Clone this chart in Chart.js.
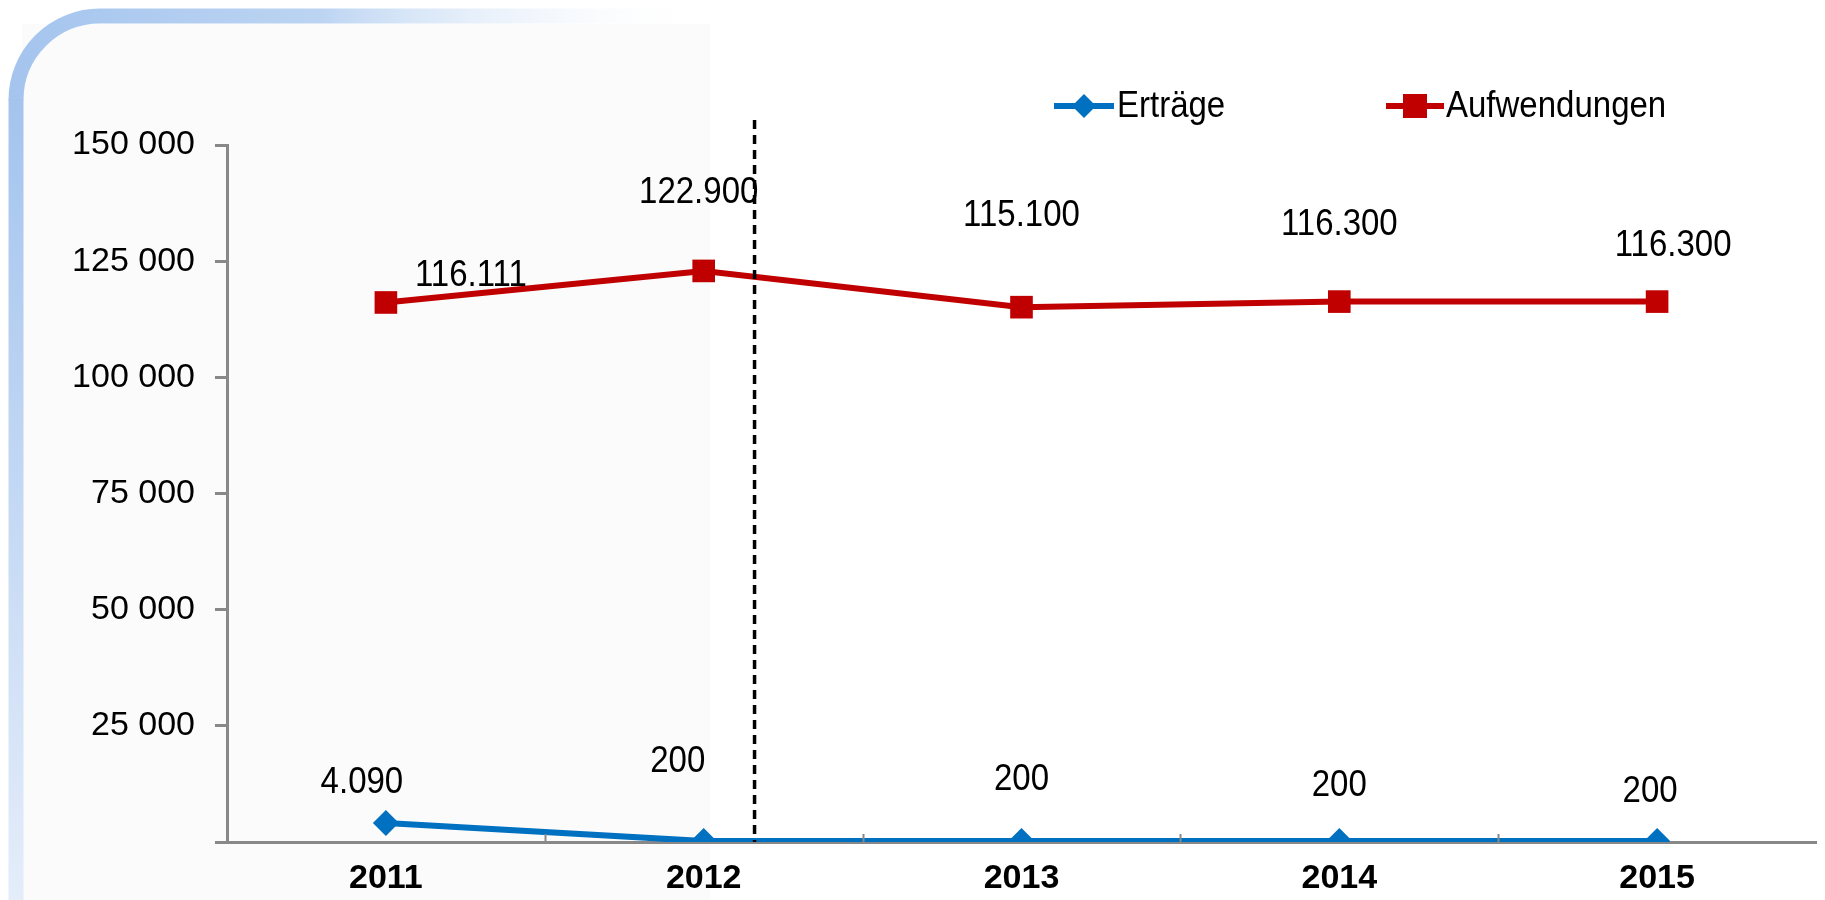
<!DOCTYPE html>
<html>
<head>
<meta charset="utf-8">
<script src="https://cdn.jsdelivr.net/npm/chart.js@4/dist/chart.umd.min.js"></script>
<style>
  html, body { margin: 0; padding: 0; overflow: hidden; background: #fff; }
  canvas { display: block; }
</style>
</head>
<body>
<canvas id="chart" width="1832" height="900"></canvas>
<script>
// Daten
const years = ['2011', '2012', '2013', '2014', '2015'];
const ertraege = [4090, 200, 200, 200, 200];
const aufwendungen = [116111, 122900, 115100, 116300, 116300];
const yMax = 150000;
const yStep = 25000;

// Lage der Wertbeschriftungen relativ zum Punkt (px)
const ertraegeLabelShift = [[-24, -40], [-26, -79], [0, -61], [0, -55], [-7, -49]];
const aufwLabelShift = [[85, -26], [-5, -78], [0, -91], [0, -77], [16, -56]];

// gestrichelte Trennlinie zwischen 2012 und 2013 (Kategorie-Index)
const dividerAt = 1.16;

const FONT = "'Liberation Sans', Arial, sans-serif";
const BLUE = '#0070c0';
const RED = '#c00000';

function fmtSpace(v) {
    return String(v).replace(/\B(?=(\d{3})+(?!\d))/g, ' ');
}
function fmtDot(v) {
    return String(v).replace(/\B(?=(\d{3})+(?!\d))/g, '.');
}

// Text etwas gestreckt zeichnen (wie im Original)
function tallText(ctx, txt, x, y, stretch) {
    ctx.save();
    ctx.translate(x, y);
    ctx.scale(1, stretch);
    ctx.fillText(txt, 0, 0);
    ctx.restore();
}

// Hintergrund mit blauem Rahmen oben links
const framePlugin = {
    id: 'frame',
    beforeDraw(chart) {
        const ctx = chart.ctx;
        const W = chart.width, H = chart.height;
        ctx.save();
        ctx.fillStyle = '#ffffff';
        ctx.fillRect(0, 0, W, H);
        ctx.fillStyle = '#fbfbfb';
        ctx.fillRect(22, 24, 688, H - 24);

        const c = 16, r = 84;
        let g = ctx.createLinearGradient(0, 0, 710, 0);
        g.addColorStop(0, '#a4c4ee');
        g.addColorStop(0.45, '#bcd4f2');
        g.addColorStop(1, 'rgba(255,255,255,0)');
        ctx.strokeStyle = g;
        ctx.lineWidth = 15;
        ctx.beginPath();
        ctx.moveTo(c, c + r);
        ctx.arcTo(c, c, c + r, c, r);
        ctx.lineTo(710, c);
        ctx.stroke();
        g = ctx.createLinearGradient(0, c + r, 0, H);
        g.addColorStop(0, '#a4c4ee');
        g.addColorStop(1, '#e4edfa');
        ctx.strokeStyle = g;
        ctx.beginPath();
        ctx.moveTo(c, c + r - 1);
        ctx.lineTo(c, H);
        ctx.stroke();
        ctx.restore();
    }
};

// Teilstriche, Trennlinie, Beschriftungen, Legende
const decoPlugin = {
    id: 'deco',
    afterDatasetsDraw(chart) {
        const ctx = chart.ctx;
        const xs = chart.scales.x;
        const area = chart.chartArea;
        ctx.save();

        ctx.strokeStyle = '#888';
        ctx.lineWidth = 2;
        const step = (xs.right - xs.left) / years.length;
        for (let i = 1; i < years.length; i++) {
            const x = Math.round(xs.left + i * step) + 0.5;
            ctx.beginPath();
            ctx.moveTo(x, area.bottom);
            ctx.lineTo(x, area.bottom - 8);
            ctx.stroke();
        }

        const dx = xs.getPixelForValue(1) + (dividerAt - 1) * step;
        ctx.strokeStyle = '#000';
        ctx.lineWidth = 3.5;
        ctx.setLineDash([9, 6]);
        ctx.beginPath();
        ctx.moveTo(dx, area.top - 25);
        ctx.lineTo(dx, area.bottom);
        ctx.stroke();
        ctx.setLineDash([]);

        ctx.fillStyle = '#000';
        ctx.font = '33px ' + FONT;
        ctx.textAlign = 'center';
        ctx.textBaseline = 'middle';
        const shifts = [ertraegeLabelShift, aufwLabelShift];
        chart.data.datasets.forEach((ds, di) => {
            const meta = chart.getDatasetMeta(di);
            meta.data.forEach((pt, i) => {
                const s = shifts[di][i];
                tallText(ctx, fmtDot(ds.data[i]), pt.x + s[0], pt.y + s[1], 1.1);
            });
        });

        const legend = [
            { ds: 0, x1: 1054, x2: 1114, tx: 1117 },
            { ds: 1, x1: 1386, x2: 1444, tx: 1446 }
        ];
        const ly = 106;
        ctx.textAlign = 'left';
        ctx.font = '33px ' + FONT;
        legend.forEach(l => {
            const ds = chart.data.datasets[l.ds];
            ctx.strokeStyle = ds.borderColor;
            ctx.fillStyle = ds.borderColor;
            ctx.lineWidth = 6;
            ctx.beginPath();
            ctx.moveTo(l.x1, ly);
            ctx.lineTo(l.x2, ly);
            ctx.stroke();
            const mx = (l.x1 + l.x2) / 2;
            ctx.beginPath();
            if (ds.pointStyle === 'rect') {
                ctx.rect(mx - 12, ly - 12, 24, 24);
            } else {
                ctx.moveTo(mx, ly - 12);
                ctx.lineTo(mx + 12, ly);
                ctx.lineTo(mx, ly + 12);
                ctx.lineTo(mx - 12, ly);
                ctx.closePath();
            }
            ctx.fill();
            ctx.fillStyle = '#000';
            tallText(ctx, ds.label, l.tx, ly + 1, 1.1);
        });
        ctx.restore();
    }
};

const ctx = document.getElementById('chart').getContext('2d');
const chart = new Chart(ctx, {
    type: 'line',
    data: {
        labels: years,
        datasets: [{
            label: 'Erträge',
            data: ertraege,
            borderColor: BLUE,
            backgroundColor: BLUE,
            borderWidth: 6,
            pointStyle: 'rectRot',
            pointRadius: 13,
            pointBorderWidth: 0,
            tension: 0,
            fill: false
        }, {
            label: 'Aufwendungen',
            data: aufwendungen,
            borderColor: RED,
            backgroundColor: RED,
            borderWidth: 6,
            pointStyle: 'rect',
            pointRadius: 16,
            pointBorderWidth: 0,
            tension: 0,
            fill: false
        }]
    },
    options: {
        responsive: false,
        devicePixelRatio: 1,
        animation: false,
        layout: { padding: { top: 145, right: 2, bottom: 0, left: 0 } },
        plugins: {
            legend: { display: false },
            tooltip: { enabled: false }
        },
        scales: {
            x: {
                type: 'category',
                offset: true,
                grid: { display: true, drawOnChartArea: false, drawTicks: false, offset: true },
                border: { color: '#888', width: 3 },
                ticks: {
                    color: '#000',
                    padding: 16,
                    font: { family: FONT, size: 34, weight: 'bold' }
                },
                afterFit(scale) { scale.height = 58; }
            },
            y: {
                min: 0,
                max: yMax,
                grid: { drawOnChartArea: false, drawTicks: true, tickLength: 12, color: '#888', lineWidth: 3 },
                border: { color: '#888', width: 3 },
                ticks: {
                    stepSize: yStep,
                    color: '#000',
                    padding: 20,
                    font: { family: FONT, size: 34 },
                    callback: v => v === 0 ? '' : fmtSpace(v)
                },
                afterFit(scale) { scale.width = 227; }
            }
        }
    },
    plugins: [framePlugin, decoPlugin]
});
</script>
</body>
</html>
